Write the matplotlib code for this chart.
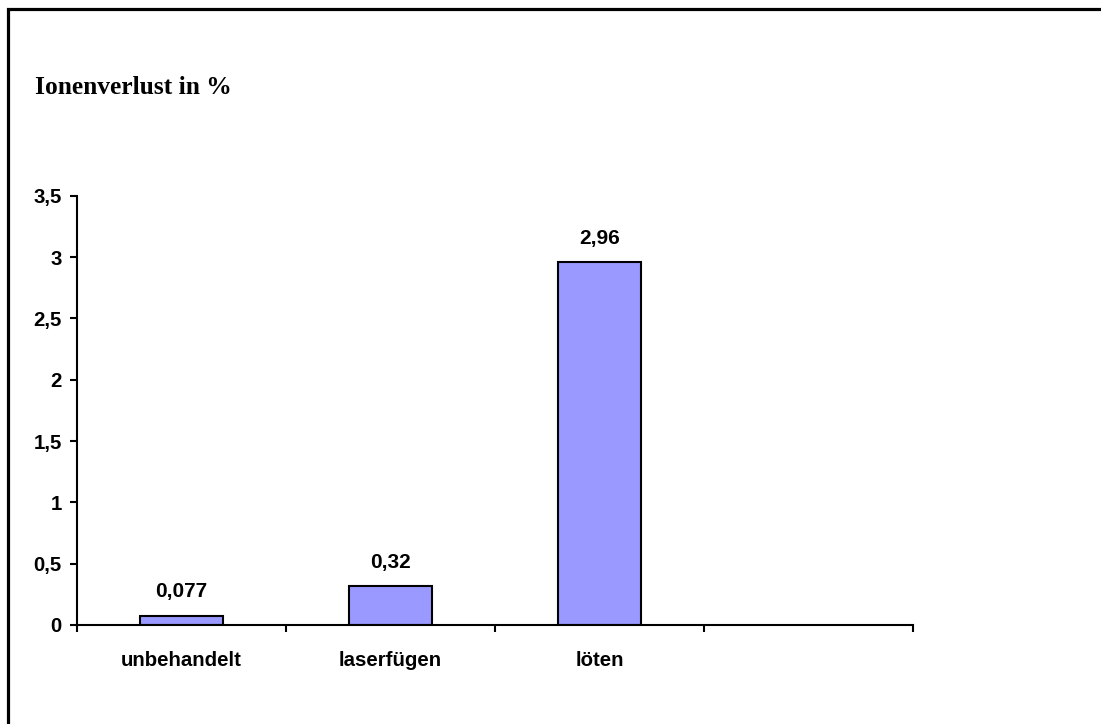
import matplotlib
matplotlib.use("Agg")
import matplotlib.pyplot as plt
from matplotlib.patches import Rectangle
from matplotlib.ticker import FuncFormatter, FixedLocator

categories = ["unbehandelt", "laserfügen", "löten", ""]
values = [0.077, 0.32, 2.96]
value_labels = ["0,077", "0,32", "2,96"]
y_ticks = [0, 0.5, 1, 1.5, 2, 2.5, 3, 3.5]

W, H = 1101, 724
fig = plt.figure(figsize=(W / 100, H / 100), dpi=100)

# frame around the chart area (runs off the right and bottom edges)
fig.patches.append(Rectangle((7.7 / W, -0.1), 1.2, (H - 8.8) / H + 0.1,
                             transform=fig.transFigure, fill=False,
                             edgecolor="black", linewidth=2.3))

ax = fig.add_axes([77 / W, (H - 625) / H, 836 / W, (625 - 195.7) / H])

x = range(len(values))
ax.bar(x, values, width=0.4, color="#9999ff", edgecolor="black", linewidth=1.5)
for xi, v, lab in zip(x, values, value_labels):
    ax.annotate(lab, (xi, v), xytext=(0, 17), textcoords="offset points",
                ha="center", va="center", fontsize=15, fontweight="bold",
                family="Liberation Sans")

ax.set_xlim(-0.5, len(categories) - 0.5)
ax.set_ylim(0, 3.5)

for side in ("top", "right"):
    ax.spines[side].set_visible(False)
for side in ("left", "bottom"):
    ax.spines[side].set_linewidth(1.5)

ax.yaxis.set_major_locator(FixedLocator(y_ticks))
ax.yaxis.set_major_formatter(FuncFormatter(lambda v, p: f"{v:g}".replace(".", ",")))
ax.tick_params(axis="y", direction="out", length=5, width=1.5, pad=6)

# ticks on category boundaries, labels centred on the bars
ax.set_xticks([i - 0.5 for i in range(len(categories) + 1)])
ax.set_xticklabels([])
ax.set_xticks(list(range(len(categories))), minor=True)
ax.set_xticklabels(categories, minor=True)
ax.tick_params(axis="x", which="major", direction="out", length=5, width=1.5)
ax.tick_params(axis="x", which="minor", length=0, pad=19)

for lab in ax.get_xticklabels(minor=True) + ax.get_yticklabels():
    lab.set_fontfamily("Liberation Sans")
    lab.set_fontweight("bold")
    lab.set_fontsize(14.7)

fig.text(35 / W, 1 - 87 / H, "Ionenverlust in %", ha="left", va="center",
         fontsize=18.4, fontweight="bold", family="Liberation Serif")

fig.savefig("out.png", dpi=100)
